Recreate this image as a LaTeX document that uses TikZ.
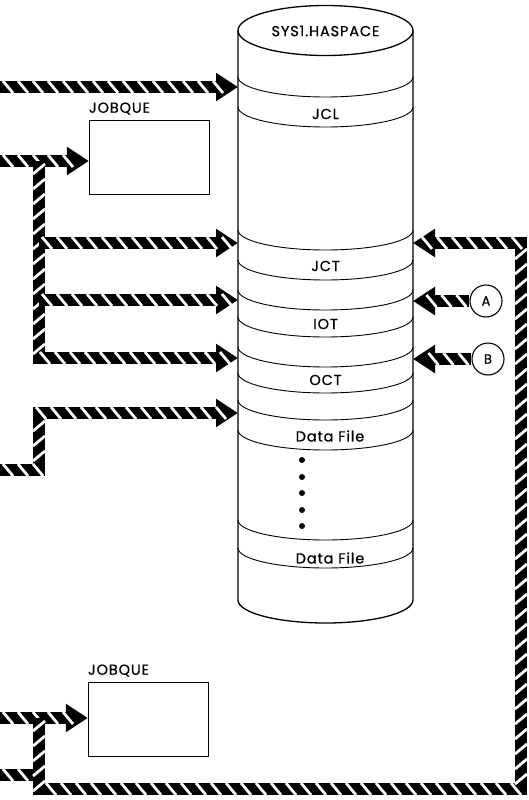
\documentclass[tikz,border=0pt]{standalone}
\usepackage{fontspec}
\setmainfont{Poppins}[LetterSpace=6, FakeBold=0.6]
\usetikzlibrary{arrows.meta,decorations.markings}

\begin{document}
\begin{tikzpicture}[x=1pt, y=-1pt,
  hatch/.style={line width=12pt, postaction={decorate, decoration={markings,
    mark=between positions 8pt and -10pt step 15pt with {\draw[white, line width=2.8pt, -] (-5pt,6pt) -- (5pt,-6pt);}}}},
  harr/.style={hatch, -{Triangle[length=22pt, width=27pt]}},
  queue/.style={draw, line width=1.3pt, minimum width=120pt, minimum height=74pt},
  conn/.style={circle, draw, line width=1.1pt, minimum size=32pt, inner sep=0pt, font=\fontsize{13}{15}\selectfont},
  lbl/.style={font=\fontsize{14.5}{16}\selectfont, inner sep=0pt}
]
  \useasboundingbox (0,0) rectangle (528,800);

  % where the lines meet SYS1.HASPACE
  \coordinate (jclIn) at (238,87);
  \coordinate (jctIn) at (238,243);
  \coordinate (iotIn) at (238,300);
  \coordinate (octIn) at (238,358);
  \coordinate (datIn) at (238,413);
  \coordinate (jctOut) at (413,243);
  \coordinate (iotOut) at (413,301);
  \coordinate (octOut) at (413,359);

  \node[queue] (jobqA) at (149.5,157.5) {};
  \node[lbl, anchor=south west] (jobqAlbl) at ([yshift=5pt]jobqA.north west) {JOBQUE};
  \node[queue] (jobqB) at (148.5,719.5) {};
  \node[lbl, anchor=south west] (jobqBlbl) at ([yshift=5pt]jobqB.north west) {JOBQUE};
  \node[conn] (connA) at (486,301) {A};
  \node[conn] (connB) at (488,359) {B};

  % lines coming in from the left
  \coordinate (inA) at (0,87);
  \coordinate (inB) at (0,161);
  \coordinate (inC) at (0,470);
  \coordinate (inD) at (0,718);
  \coordinate (inE) at (0,775);
  \coordinate (splitB) at (39,161);
  \coordinate (splitD) at (39,718);
  \coordinate (loopSE) at (521,789);

  \draw[harr] (inA) -- (jclIn);
  \draw[harr] (inB) -- (inB -| jobqA.west);
  \draw[harr] (splitB) |- (octIn);
  \draw[harr] (splitB |- jctIn) -- (jctIn);
  \draw[harr] (splitB |- iotIn) -- (iotIn);
  \draw[harr] (inC) -- (splitB |- inC) |- (datIn);
  \draw[harr] (inD) -- (inD -| jobqB.west);
  \draw[hatch] (inE) -- (splitD |- inE);
  \draw[harr] (splitD) |- (loopSE) |- (jctOut);
  \draw[harr] (connA) -- (iotOut);
  \draw[harr] (connB) -- (octOut);

  % the data set itself
  \draw[line width=1.3pt] (325.5,30.5) ellipse[x radius=87.5pt, y radius=25pt];
  \draw[line width=1.3pt] (238,30.5) -- (238,600) arc[start angle=180, end angle=360, x radius=87.5pt, y radius=23pt] -- (413,30.5);
  \foreach \y in {77,107,230,260,290,317,347,373,400,430,520,548}
    \draw[line width=0.9pt] (238,\y) arc[start angle=180, end angle=360, x radius=87.5pt, y radius=20pt];
  \foreach \y in {460,477,493,510,526}
    \fill (302,\y) circle[radius=3pt];

  \node[lbl] (haspace) at (325.5,31) {SYS1.HASPACE};
  \node[lbl] (jcl) at (325.5,114) {JCL};
  \node[lbl] (jct) at (325.5,266) {JCT};
  \node[lbl] (iot) at (325.5,324) {IOT};
  \node[lbl] (oct) at (325.5,380) {OCT};
  \node[lbl] (datA) at (330,436) {Data File};
  \node[lbl] (datB) at (330,558) {Data File};
\end{tikzpicture}
\end{document}
